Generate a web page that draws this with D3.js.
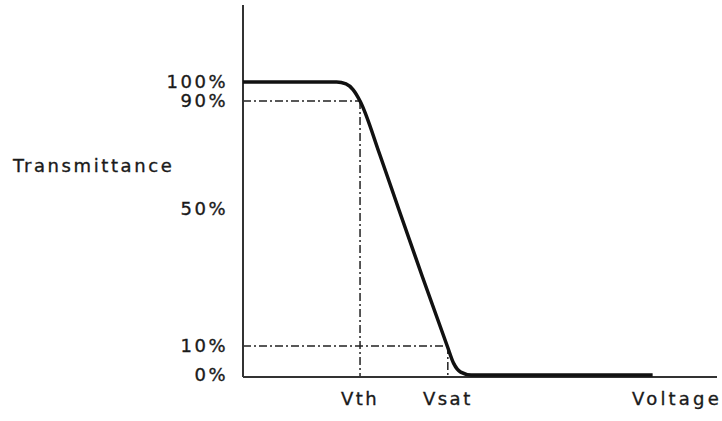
<!DOCTYPE html>
<html>
<head>
<meta charset="utf-8">
<script src="https://cdn.jsdelivr.net/npm/d3@7"></script>
<style>
  body { margin: 0; background: #fff; }
  svg text { font-family: "DejaVu Sans", sans-serif; fill: #1a1a1a; stroke: #1a1a1a; stroke-width: 0.35px; }
</style>
</head>
<body>
<svg id="chart" width="722" height="421"></svg>
<script>
// transmittance vs voltage curve (voltage in units of Vth)
const voltage = [0, 0.8, 0.88, 0.94, 1.0, 1.17, 1.33, 1.535, 1.745, 1.8, 1.86, 1.95, 3.5];
const transmittance = [100, 100, 99, 96, 90, 70, 50, 30, 10, 4, 1, 0, 0];

const yTicks = [100, 90, 50, 10, 0];
const yTickLabels = ["100%", "90%", "50%", "10%", "0%"];
const xMarks = [1.0, 1.75];
const xMarkLabels = ["Vth", "Vsat"];
const refLevels = [90, 10]; // dash-dot guide lines, paired with xMarks

const margin = {top: 5, right: 5, bottom: 44, left: 243};
const width = 722 - margin.left - margin.right;
const height = 421 - margin.top - margin.bottom;

const svg = d3.select("#chart");
const g = svg.append("g").attr("transform", `translate(${margin.left},${margin.top})`);

const x = d3.scaleLinear().domain([0, 4.05]).range([0, width]);
// the original drawing is not to scale, so the percent axis is piecewise
const y = d3.scaleLinear().domain([0, 10, 50, 90, 100]).range([370, 341, 204, 96, 77]);

// guides
const dash = "8,3,2,3";
refLevels.forEach((lvl, i) => {
    g.append("line")
        .attr("x1", 0).attr("x2", x(xMarks[i]))
        .attr("y1", y(lvl)).attr("y2", y(lvl))
        .attr("stroke", "#222").attr("stroke-width", 1.5)
        .attr("stroke-dasharray", dash);
    g.append("line")
        .attr("x1", x(xMarks[i])).attr("x2", x(xMarks[i]))
        .attr("y1", y(lvl)).attr("y2", height)
        .attr("stroke", "#222").attr("stroke-width", 1.5)
        .attr("stroke-dasharray", dash);
});

// axes
g.append("line")
    .attr("x1", 0).attr("x2", 0).attr("y1", 0).attr("y2", height)
    .attr("stroke", "#333").attr("stroke-width", 2);
g.append("line")
    .attr("x1", 0).attr("x2", width).attr("y1", height).attr("y2", height)
    .attr("stroke", "#333").attr("stroke-width", 2);

// curve
const line = d3.line()
    .x((d, i) => x(voltage[i]))
    .y(d => y(d))
    .curve(d3.curveMonotoneX);
g.append("path")
    .datum(transmittance)
    .attr("d", line)
    .attr("fill", "none")
    .attr("stroke", "#111")
    .attr("stroke-width", 3.5);

// y tick labels
g.selectAll(".ylab")
    .data(yTicks)
    .enter()
    .append("text")
        .attr("x", -15)
        .attr("y", d => y(d))
        .attr("dy", "0.36em")
        .attr("text-anchor", "end")
        .style("font-size", "18px")
        .style("letter-spacing", "2.5px")
        .text((d, i) => yTickLabels[i]);

// x mark labels
g.selectAll(".xlab")
    .data(xMarks)
    .enter()
    .append("text")
        .attr("x", d => x(d))
        .attr("y", 405 - margin.top)
        .attr("text-anchor", "middle")
        .style("font-size", "18px")
        .style("letter-spacing", "2.5px")
        .text((d, i) => xMarkLabels[i]);

// axis titles
svg.append("text")
    .attr("x", 13).attr("y", 172)
    .style("font-size", "18px")
    .style("letter-spacing", "2.6px")
    .text("Transmittance");
svg.append("text")
    .attr("x", 722).attr("y", 405)
    .attr("text-anchor", "end")
    .style("font-size", "18px")
    .style("letter-spacing", "3.2px")
    .text("Voltage");
</script>
</body>
</html>
